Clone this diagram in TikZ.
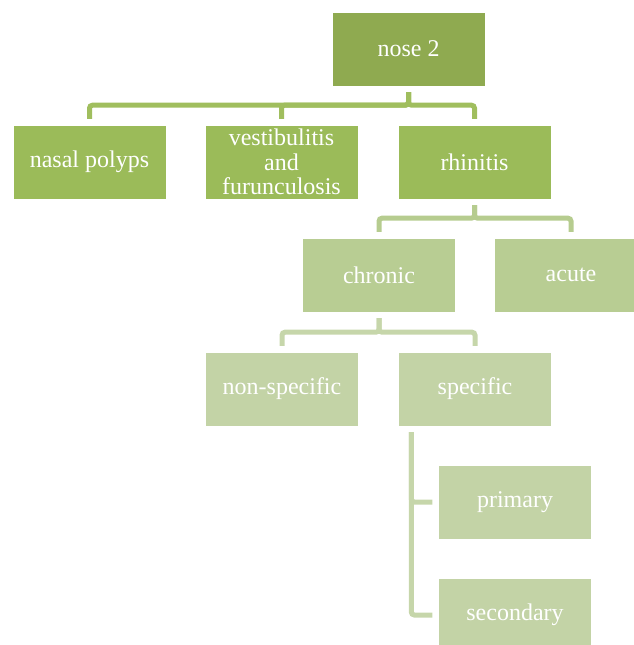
\documentclass[tikz,border=0pt]{standalone}
\usepackage{fontspec}
\setmainfont{Liberation Serif}
\usepackage{tikz}
\usetikzlibrary{positioning,calc}
\definecolor{olivetop}{RGB}{143,170,80}
\definecolor{olivetwo}{RGB}{155,187,89}
\definecolor{olivethree}{RGB}{184,205,147}
\definecolor{olivefour}{RGB}{195,211,166}
\definecolor{linkone}{RGB}{160,190,94}
\definecolor{linktwo}{RGB}{182,204,143}
\definecolor{linkthree}{RGB}{198,214,170}
\begin{document}
\begin{tikzpicture}[x=1pt,y=-1pt,
  tbox/.style={rectangle,draw=white,thin,text=white,
    font=\fontsize{24}{24.5}\selectfont,minimum width=153pt,minimum height=74pt,
    inner sep=2pt,align=center},
  tlink/.style={line width=5pt,rounded corners=3pt,line cap=butt,
    shorten <=6pt,shorten >=6pt}
]
\useasboundingbox (0,0) rectangle (633,645);
\node[tbox,fill=olivetop] (nose) at (408.5,49) {nose 2};
\node[tbox,fill=olivetwo] (polyps) at (89.5,162) {nasal polyps};
\node[tbox,fill=olivetwo] (vestib) at (281.5,162) {vestibulitis\\and\\furunculosis};
\node[tbox,fill=olivetwo] (rhin) at (474.5,162) {rhinitis};
\node[tbox,fill=olivethree] (chron) at (379,275) {chronic};
\node[tbox,fill=olivethree] (acute) at (571,275) {acute};
\node[tbox,fill=olivefour] (nonspec) at (282,389) {non-specific};
\node[tbox,fill=olivefour] (spec) at (475,389) {specific};
\node[tbox,fill=olivefour] (prim) at (515,502) {primary};
\node[tbox,fill=olivefour] (second) at (515,615) {secondary};
\foreach \kid in {polyps,vestib,rhin}
  \draw[tlink,linkone] (nose.south) -- ++(0,19) -| (\kid.north);
\foreach \kid in {chron,acute}
  \draw[tlink,linktwo] (rhin.south) -- ++(0,19) -| (\kid.north);
\foreach \kid in {nonspec,spec}
  \draw[tlink,linkthree] (chron.south) -- ++(0,20) -| (\kid.north);
\foreach \kid in {prim,second}
  \draw[tlink,linkthree,shorten <=0pt] ([xshift=13pt,yshift=-6pt]spec.south west) |- (\kid.west);
\end{tikzpicture}
\end{document}
